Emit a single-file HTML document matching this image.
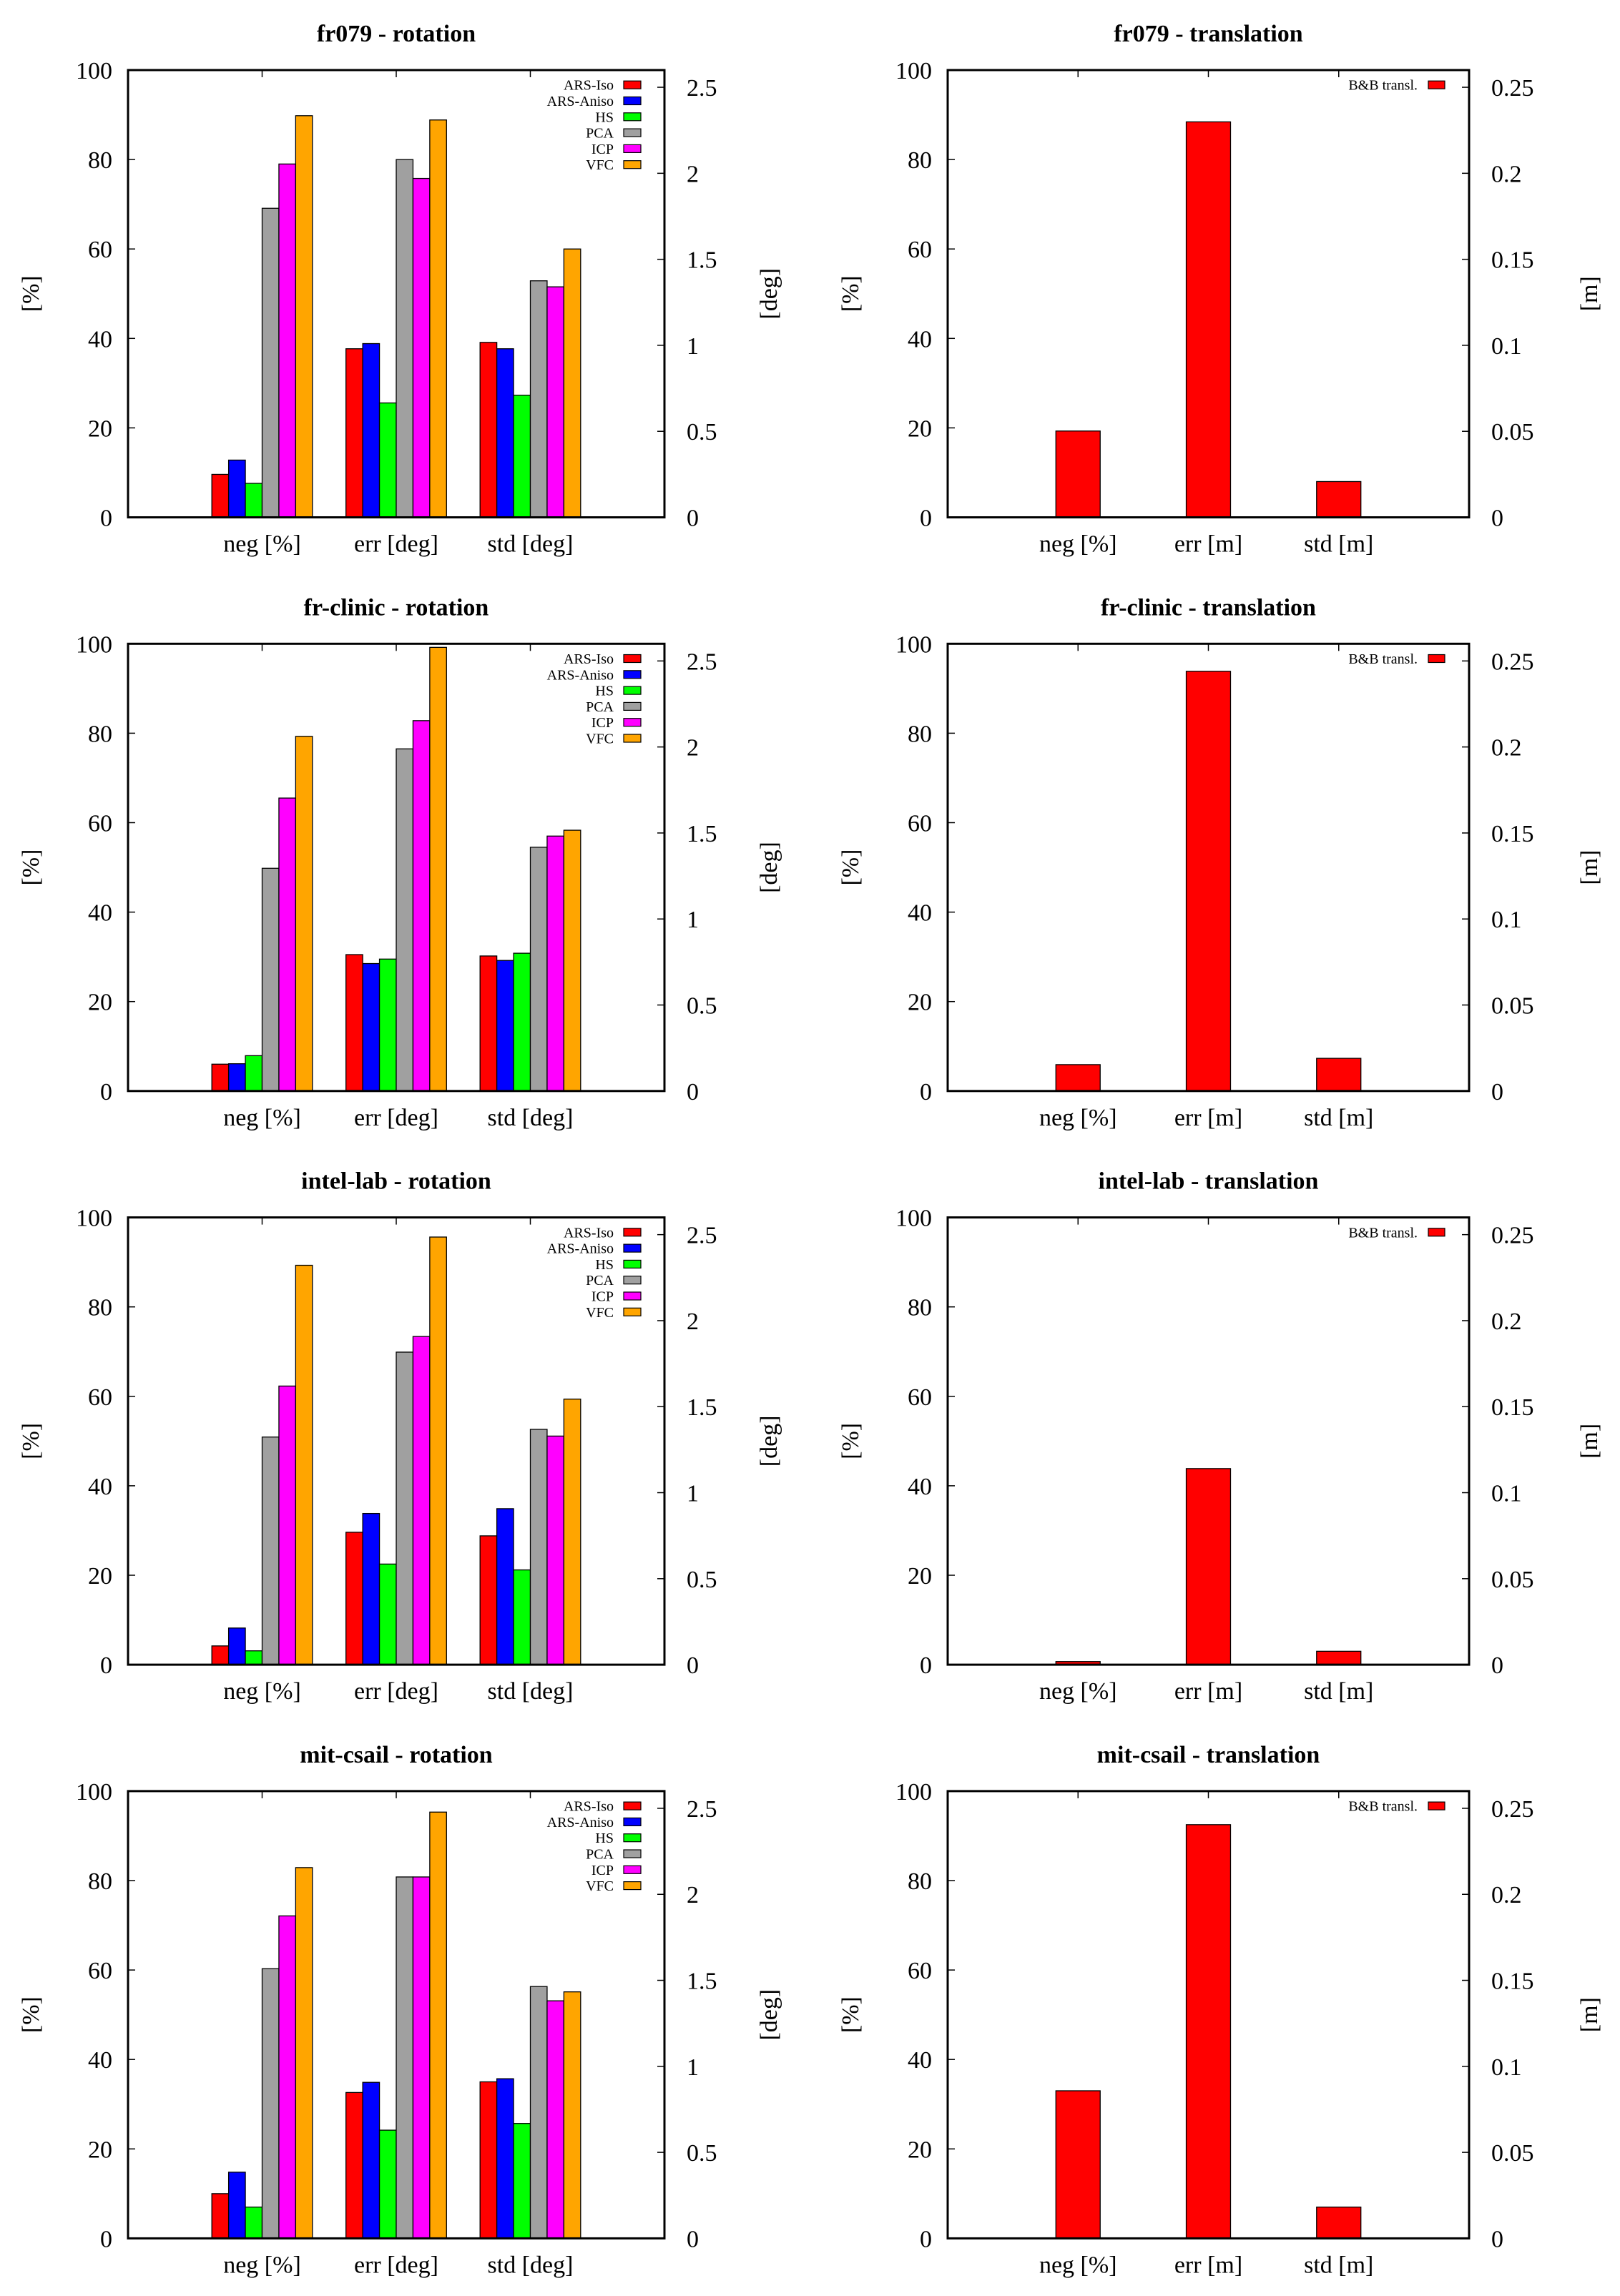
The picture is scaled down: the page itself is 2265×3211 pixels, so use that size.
<!DOCTYPE html>
<html><head><meta charset="utf-8"><style>
html,body{margin:0;padding:0;background:#fff;}
svg{display:block;}
text{font-family:"Liberation Serif",serif;fill:#000;}
</style></head><body>
<svg id="fig" width="2265" height="3211" viewBox="0 0 2265 3211" xmlns="http://www.w3.org/2000/svg"></svg>
<script>
const datasets = ["fr079","fr-clinic","intel-lab","mit-csail"];
const methods = ["ARS-Iso","ARS-Aniso","HS","PCA","ICP","VFC"];
const methodColors = ["#ff0000","#0000ff","#00ff00","#a0a0a0","#ff00ff","#ffa500"];
const rotCategories = ["neg [%]","err [deg]","std [deg]"];
const trCategories = ["neg [%]","err [m]","std [m]"];
const leftTicks = [0,20,40,60,80,100];
const rotRightTicks = [0,0.5,1,1.5,2,2.5];
const rotRightTickLabels = ["0","0.5","1","1.5","2","2.5"];
const trRightTicks = [0,0.05,0.1,0.15,0.2,0.25];
const trRightTickLabels = ["0","0.05","0.1","0.15","0.2","0.25"];
// rotation: neg in %, err/std in deg
const rotNeg = [
 [9.6,12.8,7.6,69.1,79.0,89.8],
 [6.0,6.1,7.9,49.8,65.5,79.3],
 [4.2,8.2,3.1,50.9,62.3,89.3],
 [10.0,14.8,7.0,60.3,72.1,82.9]];
const rotErr = [
 [0.98,1.01,0.665,2.08,1.97,2.31],
 [0.793,0.741,0.767,1.989,2.153,2.579],
 [0.770,0.879,0.585,1.817,1.908,2.486],
 [0.848,0.907,0.629,2.101,2.101,2.478]];
const rotStd = [
 [1.017,0.98,0.71,1.375,1.34,1.56],
 [0.785,0.759,0.801,1.417,1.482,1.516],
 [0.749,0.907,0.551,1.368,1.329,1.544],
 [0.91,0.928,0.668,1.464,1.381,1.433]];
// translation: neg in %, err/std in m
const trNeg = [19.3,5.9,0.7,33.0];
const trErr = [0.2299,0.244,0.114,0.2405];
const trStd = [0.0208,0.019,0.0078,0.0182];

const svg = document.getElementById('fig');
const NS = "http://www.w3.org/2000/svg";
function mk(tag, attrs, parent){
  const e = document.createElementNS(NS, tag);
  for (const k in attrs) e.setAttribute(k, attrs[k]);
  (parent||svg).appendChild(e);
  return e;
}
const rowTop0 = 98, rowStep = 802.3, plotH = 625.5;

function drawPanel(row, isRot){
  const x0 = isRot ? 179 : 1325;
  const x1 = isRot ? 929 : 2054;
  const top = rowTop0 + row*rowStep;
  const bot = top + plotH;
  const y2max = isRot ? 2.6 : 0.26;
  const g = mk('g', {});
  
  
  const xs = v => x0 + (v + 1) * (x1 - x0) / 4;
  const yL = v => bot - v / 100 * plotH;
  const yR = v => bot - v / y2max * plotH;
  const t = mk('text', {x:(x0+x1)/2, y:top-40, 'font-size':34, 'font-weight':'bold', 'text-anchor':'middle'}, g);
  t.textContent = datasets[row] + (isRot ? ' - rotation' : ' - translation');
  
  
  if (isRot){
    const groups = [rotNeg[row], rotErr[row], rotStd[row]];
    groups.forEach((vals, gi) => {
      vals.forEach((v, mi) => {
        const bx = xs(gi - 0.375 + mi*0.125);
        const bw = xs(0.125) - xs(0);
        const by = gi === 0 ? yL(v) : yR(v);
        const r = mk('rect', {x:bx, y:by, width:bw, height:bot-by, fill:methodColors[mi], stroke:'#000', 'stroke-width':1.3}, g);
        
        
      });
    });
  } else {
    const vals = [trNeg[row], trErr[row], trStd[row]];
    vals.forEach((v, gi) => {
      const bw = xs(0.34) - xs(0);
      const bx = xs(gi) - bw/2;
      const by = gi === 0 ? yL(v) : yR(v);
      const r = mk('rect', {x:bx, y:by, width:bw, height:bot-by, fill:'#ff0000', stroke:'#000', 'stroke-width':1.3}, g);
      
      
    });
  }
  const fr = mk('rect', {x:x0, y:top, width:x1-x0, height:plotH, fill:'none', stroke:'#000', 'stroke-width':3}, g);
  
  
  leftTicks.forEach(v => {
    const y = yL(v);
    mk('line', {x1:x0, x2:x0+10, y1:y, y2:y, stroke:'#000', 'stroke-width':1.5}, g);
    const lt = mk('text', {x:x0-22, y:y+12, 'font-size':34, 'text-anchor':'end'}, g);
    lt.textContent = v;
    
    
  });
  const rt = isRot ? rotRightTicks : trRightTicks;
  const rl = isRot ? rotRightTickLabels : trRightTickLabels;
  rt.forEach((v, i) => {
    const y = yR(v);
    mk('line', {x1:x1-10, x2:x1, y1:y, y2:y, stroke:'#000', 'stroke-width':1.5}, g);
    const tt = mk('text', {x:x1+31, y:y+12, 'font-size':34, 'text-anchor':'start'}, g);
    tt.textContent = rl[i];
    
    
  });
  const cats = isRot ? rotCategories : trCategories;
  cats.forEach((c, i) => {
    const x = xs(i);
    mk('line', {x1:x, x2:x, y1:top, y2:top+10, stroke:'#000', 'stroke-width':1.5}, g);
    const xt = mk('text', {x:x, y:bot+48, 'font-size':34, 'text-anchor':'middle'}, g);
    xt.textContent = c;
    
    
  });
  const cy = (top+bot)/2;
  const lx = isRot ? 42 : 1188;
  const yt = mk('text', {x:lx, y:cy, 'font-size':34, 'text-anchor':'middle', transform:`rotate(-90 ${lx} ${cy})`, dy:12}, g);
  yt.textContent = '[%]';
  
  
  const rx = isRot ? 1074 : 2221;
  const y2t = mk('text', {x:rx, y:cy, 'font-size':34, 'text-anchor':'middle', transform:`rotate(-90 ${rx} ${cy})`, dy:12}, g);
  y2t.textContent = isRot ? '[deg]' : '[m]';
  
  
  if (isRot){
    methods.forEach((m, i) => {
      const ly = top + 20.7 + i*22.3;
      const sw = mk('rect', {x:872, y:ly-5.5, width:24, height:11, fill:methodColors[i], stroke:'#000', 'stroke-width':1.2}, g);
      
      
      const lt = mk('text', {x:858, y:ly+7, 'font-size':20, 'text-anchor':'end'}, g);
      lt.textContent = m;
      
      
    });
  } else {
    const ly = top + 20.7;
    const sw = mk('rect', {x:1997, y:ly-5.5, width:23, height:11, fill:'#ff0000', stroke:'#000', 'stroke-width':1.2}, g);
    
    
    const lt = mk('text', {x:1982, y:ly+7, 'font-size':20, 'text-anchor':'end'}, g);
    lt.textContent = 'B&B transl.';
    
    
  }
}
for (let r = 0; r < 4; r++){ drawPanel(r, true); drawPanel(r, false); }
</script>
</body></html>
